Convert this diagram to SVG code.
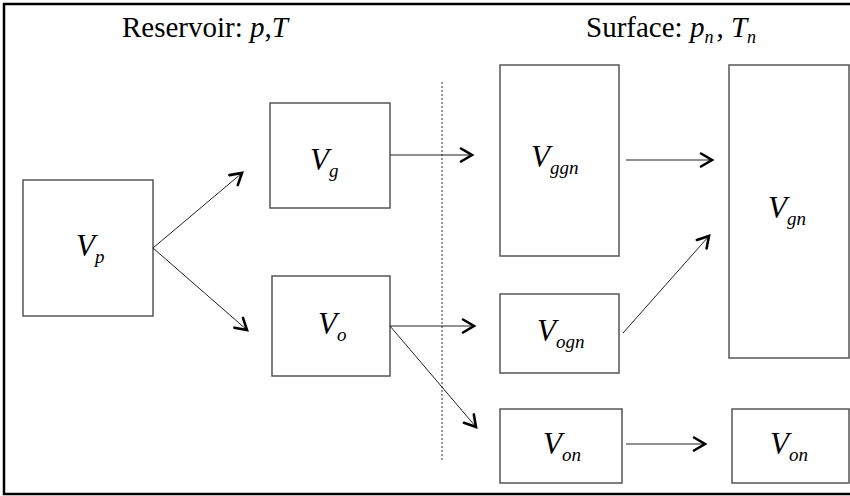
<svg xmlns="http://www.w3.org/2000/svg" width="850" height="496" viewBox="0 0 850 496">
<style>
.box{fill:#fff;stroke:#555;stroke-width:1.5}
.ln{stroke:#222;stroke-width:1;fill:none}
text{font-family:'Liberation Serif','Times New Roman',serif;fill:#000}
.V{font-size:31px;font-style:italic}
.s{font-size:19px;font-style:italic}
.h{font-size:29px}
.i{font-style:italic}
</style>
<defs>
<marker id="ah" markerUnits="userSpaceOnUse" markerWidth="20" markerHeight="20" viewBox="-14 -10 20 20" refX="0" refY="0" orient="auto">
<path d="M-11,-6.5 L0,0 L-11,6.5" fill="none" stroke="#000" stroke-width="2.6" stroke-linecap="round" stroke-linejoin="miter"/>
</marker>
</defs>
<rect x="4" y="4" width="850" height="490" fill="#fff" stroke="#000" stroke-width="2.5"/>
<g font-family="Liberation Serif, Times New Roman, serif">
<text class="h" x="122" y="37">Reservoir: <tspan class="i">p</tspan>,<tspan class="i">T</tspan></text>
<text class="h" x="586" y="37">Surface: <tspan class="i">p</tspan><tspan class="i" font-size="18" dy="6">n</tspan><tspan dy="-6" dx="3">, </tspan><tspan class="i">T</tspan><tspan class="i" font-size="18" dy="6">n</tspan></text>
</g>
<line x1="442" y1="82" x2="442" y2="462" stroke="#333" stroke-width="1" stroke-dasharray="2,2"/>
<g id="Vp" font-family="Liberation Serif, Times New Roman, serif"><rect class="box" x="23" y="180" width="130" height="136"/><text class="V" x="76" y="256">V</text><text class="s" x="95" y="263">p</text></g>
<g id="Vg" font-family="Liberation Serif, Times New Roman, serif"><rect class="box" x="270" y="103" width="120" height="105"/><text class="V" x="310" y="170">V</text><text class="s" x="329" y="177">g</text></g>
<g id="Vo" font-family="Liberation Serif, Times New Roman, serif"><rect class="box" x="272" y="276" width="118" height="100"/><text class="V" x="318" y="334">V</text><text class="s" x="337" y="341">o</text></g>
<g id="Vggn" font-family="Liberation Serif, Times New Roman, serif"><rect class="box" x="500" y="65" width="119" height="191"/><text class="V" x="531" y="167">V</text><text class="s" x="550" y="174">ggn</text></g>
<g id="Vgn" font-family="Liberation Serif, Times New Roman, serif"><rect class="box" x="729" y="65" width="120" height="293"/><text class="V" x="768" y="218">V</text><text class="s" x="787" y="225">gn</text></g>
<g id="Vogn" font-family="Liberation Serif, Times New Roman, serif"><rect class="box" x="500" y="294" width="119" height="79"/><text class="V" x="537" y="341">V</text><text class="s" x="556" y="348">ogn</text></g>
<g id="Von1" font-family="Liberation Serif, Times New Roman, serif"><rect class="box" x="500" y="409" width="122" height="74"/><text class="V" x="543" y="454">V</text><text class="s" x="562" y="461">on</text></g>
<g id="Von2" font-family="Liberation Serif, Times New Roman, serif"><rect class="box" x="732" y="409" width="117" height="74"/><text class="V" x="770" y="454">V</text><text class="s" x="789" y="461">on</text></g>
<g id="connectors">
<line class="ln" x1="153" y1="248" x2="242" y2="173" marker-end="url(#ah)"/>
<line class="ln" x1="153" y1="248" x2="247" y2="330" marker-end="url(#ah)"/>
<line class="ln" x1="390" y1="155" x2="472" y2="155" marker-end="url(#ah)"/>
<line class="ln" x1="390" y1="326" x2="474" y2="326" marker-end="url(#ah)"/>
<line class="ln" x1="390" y1="326" x2="476" y2="427" marker-end="url(#ah)"/>
<line class="ln" x1="626" y1="160" x2="712" y2="160" marker-end="url(#ah)"/>
<line class="ln" x1="623" y1="333" x2="709" y2="236" marker-end="url(#ah)"/>
<line class="ln" x1="626" y1="444" x2="705" y2="444" marker-end="url(#ah)"/>
</g>
</svg>
